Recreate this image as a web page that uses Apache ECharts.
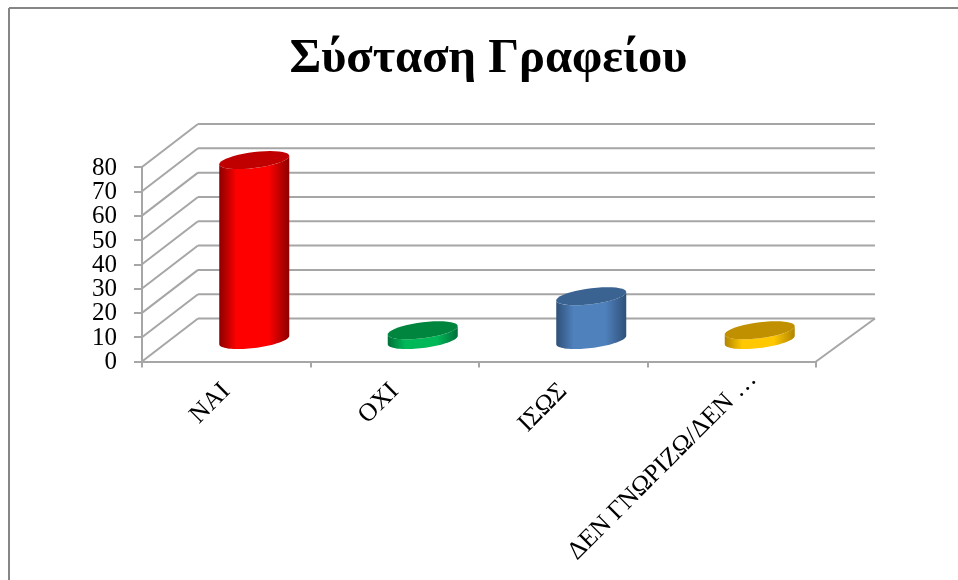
<!DOCTYPE html>
<html>
<head>
<meta charset="utf-8">
<style>html,body{margin:0;padding:0;background:#fff}#chart{width:958px;height:580px}</style>
<script src="https://cdn.jsdelivr.net/npm/echarts@6/dist/echarts.min.js"></script>
</head>
<body>
<div id="chart"></div>
<script>
// Survey answers, percent of respondents
const categories = ['ΝΑΙ', 'ΟΧΙ', 'ΙΣΩΣ', 'ΔΕΝ ΓΝΩΡΙΖΩ/ΔΕΝ …'];
const values = [74, 4, 18, 4];
const yTicks = [0, 10, 20, 30, 40, 50, 60, 70, 80];
// Per-bar colours: side edge, side centre, top cap
const edgeColors = ['#8c0000', '#00703a', '#2f5078', '#b08400'];
const sideColors = ['#ff0000', '#00b858', '#4f81bd', '#ffc800'];
const capColors = ['#c00000', '#00853e', '#3b6391', '#c09000'];

// Oblique projection of the box: how far the back wall sits from the front plane
const DEPTH_X = 56;
const DEPTH_Y = -43;
const GRID_COLOR = '#a6a6a6';
const LABEL_FONT = '25px "Liberation Serif"';

// Points of a sheared ellipse between two parameter angles
function arc(cx, cy, a, b, from, to) {
  const pts = [];
  const steps = 40;
  for (let i = 0; i <= steps; i++) {
    const t = from + (to - from) * i / steps;
    pts.push([cx + a * Math.cos(t), cy + b * Math.sin(t) - 0.12 * a * Math.cos(t)]);
  }
  return pts;
}

// Wall and floor lines for one tick, plus its value label; the labels are packed
// tighter than the axis would allow, so they are drawn here rather than by the axis
function renderWalls(params, api) {
  const cs = params.coordSys;
  const value = api.value(1);
  const y = api.coord([0, value])[1];
  const line = (x1, y1, x2, y2) => ({
    type: 'line',
    shape: { x1, y1, x2, y2 },
    style: { stroke: GRID_COLOR, lineWidth: 2 }
  });
  const children = [
    line(cs.x, y, cs.x + DEPTH_X, y + DEPTH_Y),
    line(cs.x + DEPTH_X, y + DEPTH_Y, cs.x + cs.width + DEPTH_X + 3, y + DEPTH_Y),
    {
      type: 'text',
      x: cs.x - 25,
      y: y + 1,
      style: {
        text: String(value),
        align: 'right',
        verticalAlign: 'middle',
        fill: '#000',
        font: LABEL_FONT
      }
    }
  ];
  if (value === 0) {
    children.push(line(cs.x + cs.width, y, cs.x + cs.width + DEPTH_X + 3, y + DEPTH_Y));
  }
  return { type: 'group', children };
}

function renderCylinder(params, api) {
  const i = params.dataIndex;
  const base = api.coord([api.value(0), 0]);
  const top = api.coord([api.value(0), api.value(1)]);
  const cx = base[0] + DEPTH_X / 2;
  const yBase = base[1] + DEPTH_Y / 2;
  const yTop = top[1] + DEPTH_Y / 2;
  const a = 35, b = 8;
  const capPts = arc(cx, yTop, a, b, 0, Math.PI * 2);
  const sidePts = arc(cx, yBase, a, b, 0, Math.PI)
    .concat(arc(cx, yTop, a, b, Math.PI, 0));
  return {
    type: 'group',
    children: [
      {
        type: 'polygon',
        shape: { points: sidePts },
        style: {
          fill: new echarts.graphic.LinearGradient(0, 0, 1, 0, [
            { offset: 0, color: edgeColors[i] },
            { offset: 0.25, color: sideColors[i] },
            { offset: 0.7, color: sideColors[i] },
            { offset: 1, color: edgeColors[i] }
          ])
        }
      },
      { type: 'polygon', shape: { points: capPts }, style: { fill: capColors[i] } }
    ]
  };
}

// Slanted category names; a shortened name hangs further up along the axis
function renderCategoryLabel(params, api) {
  const name = categories[params.dataIndex];
  const p = api.coord([api.value(0), 0]);
  const shortened = name.endsWith('…');
  return {
    type: 'text',
    x: p[0] + (shortened ? 21 : 0),
    y: p[1] + (shortened ? 14 : 26),
    rotation: Math.PI / 4,
    style: {
      text: name,
      align: 'right',
      verticalAlign: 'middle',
      fill: '#000',
      font: '25.5px "Liberation Serif"'
    }
  };
}

const chart = echarts.init(document.getElementById('chart'), null, { renderer: 'canvas' });
chart.setOption({
  animation: false,
  backgroundColor: '#fff',
  textStyle: { fontFamily: '"Liberation Serif"' },
  title: {
    text: 'Σύσταση Γραφείου',
    left: 483.5,
    top: 30,
    textAlign: 'center',
    textStyle: { fontFamily: '"Liberation Serif"', fontWeight: 'bold', fontSize: 48.5, color: '#000' }
  },
  // Chart frame: top and left edges only
  graphic: [
    { type: 'line', shape: { x1: 9, y1: 8, x2: 958, y2: 8 }, style: { stroke: '#868686', lineWidth: 2 } },
    { type: 'line', shape: { x1: 9, y1: 8, x2: 9, y2: 580 }, style: { stroke: '#868686', lineWidth: 2 } }
  ],
  grid: { left: 142, width: 674, top: 167, height: 194.5 },
  xAxis: {
    type: 'category',
    data: categories,
    axisLine: { lineStyle: { color: GRID_COLOR, width: 2 } },
    axisTick: { show: true, length: 6, alignWithLabel: false, lineStyle: { color: GRID_COLOR, width: 2 } },
    axisLabel: { show: false },
    splitLine: { show: false }
  },
  yAxis: {
    type: 'value',
    min: 0,
    max: 80,
    interval: 10,
    axisLine: { show: true, lineStyle: { color: GRID_COLOR, width: 2 } },
    axisTick: { show: true, length: 8, lineStyle: { color: GRID_COLOR, width: 2 } },
    axisLabel: { show: false },
    splitLine: { show: false }
  },
  series: [
    {
      type: 'custom',
      silent: true,
      z: 1,
      renderItem: renderWalls,
      encode: { x: 0, y: 1 },
      data: yTicks.map(v => [0, v])
    },
    {
      type: 'custom',
      z: 2,
      renderItem: renderCylinder,
      encode: { x: 0, y: 1 },
      data: values.map((v, i) => [i, v])
    },
    {
      type: 'custom',
      silent: true,
      z: 3,
      renderItem: renderCategoryLabel,
      encode: { x: 0, y: 1 },
      data: categories.map((c, i) => [i, 0])
    }
  ]
});
</script>
</body>
</html>
